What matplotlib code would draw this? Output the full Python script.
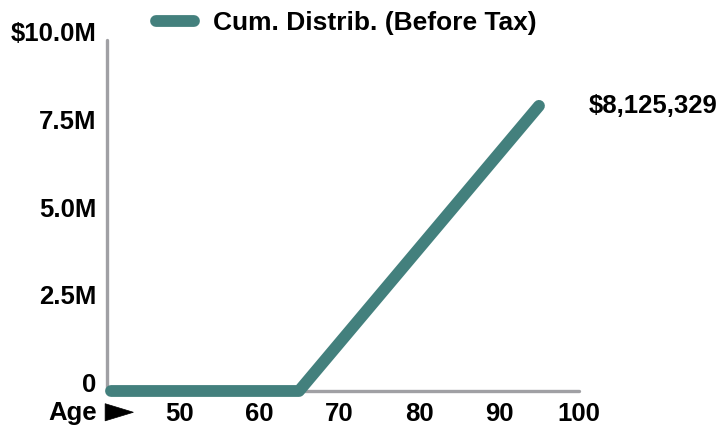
import matplotlib
matplotlib.use('Agg')
import matplotlib.pyplot as plt
import matplotlib.transforms as mtransforms
from matplotlib.patches import Polygon

# cumulative before-tax distributions by age
ages = [41.5, 65, 95]
cum_distrib = [0, 0, 8125329]
final_label = '$8,125,329'

y_ticks = [0, 2500000, 5000000, 7500000, 10000000]
y_labels = ['0', '2.5M', '5.0M', '7.5M', '$10.0M']
x_ticks = [50, 60, 70, 80, 90, 100]

line_color = '#43807d'
axis_color = '#a0a0a4'
fs = 18.5

plt.rcParams['font.family'] = ['Liberation Sans', 'DejaVu Sans']
plt.rcParams['font.weight'] = 'bold'

fig = plt.figure(figsize=(7.25, 4.29), dpi=100)
ax = fig.add_axes([0.1476, 0.0886, 0.651, 0.818])

ax.plot(ages, cum_distrib, color=line_color, lw=8.5, solid_capstyle='round',
        solid_joinstyle='round', label='Cum. Distrib. (Before Tax)', clip_on=False, zorder=3)

ax.set_xlim(41, 100)
ax.set_ylim(0, 10000000)

for side in ['top', 'right']:
    ax.spines[side].set_visible(False)
for side in ['left', 'bottom']:
    ax.spines[side].set_color(axis_color)
    ax.spines[side].set_linewidth(2.4)
    ax.spines[side].set_capstyle('round')

ax.set_xticks(x_ticks)
ax.set_xticklabels([str(t) for t in x_ticks], fontsize=fs, fontweight='bold')
ax.set_yticks(y_ticks)
ax.set_yticklabels(y_labels, fontsize=fs, fontweight='bold')
ax.tick_params(axis='both', length=0)
ax.tick_params(axis='x', pad=8)
ax.tick_params(axis='y', pad=7.5)

# lift the y labels a little above their gridline positions
shift = mtransforms.ScaledTranslation(0, 6 / 72, fig.dpi_scale_trans)
for lbl in ax.get_yticklabels():
    lbl.set_transform(lbl.get_transform() + shift)

ax.annotate(final_label, xy=(95, 8125329), xytext=(36, 0),
            textcoords='offset points', ha='left', va='center',
            fontsize=fs, fontweight='bold', annotation_clip=False)

# "Age ▶" marker under the y axis
fig.text(0.134, 0.037, 'Age', fontsize=fs, fontweight='bold', ha='right', va='center')
fig.patches.append(Polygon([[0.145, 0.059], [0.145, 0.019], [0.184, 0.039]],
                           closed=True, transform=fig.transFigure,
                           facecolor='black', edgecolor='black', lw=0.5))

leg = ax.legend(loc='center left', bbox_to_anchor=(0.215, 0.946),
                bbox_transform=fig.transFigure, frameon=False,
                borderpad=0, borderaxespad=0,
                prop={'size': 19, 'weight': 'bold'}, handlelength=1.45,
                handletextpad=0.72)

fig.savefig('out.png', dpi=100)
